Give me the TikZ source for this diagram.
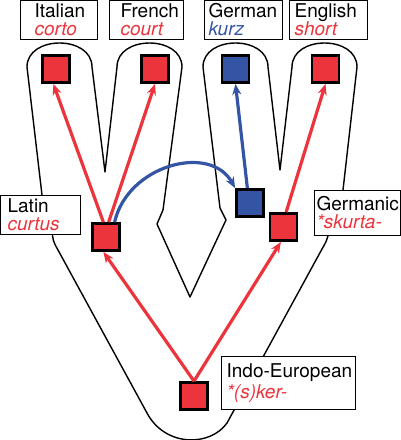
\documentclass[tikz,border=0pt]{standalone}
\usepackage{fontspec}
\setmainfont{TeX Gyre Heros}
\usetikzlibrary{arrows.meta,calc}
\definecolor{wred}{RGB}{236,52,60}
\definecolor{wblue}{RGB}{52,84,164}
\begin{document}
\begin{tikzpicture}[x=1pt,y=-1pt,
  outline/.style={draw=black,line width=1.4pt,line join=round},
  lbox/.style={draw=black,line width=1.2pt,fill=white,anchor=north west,inner ysep=0pt,align=left,font=\fontsize{19}{18}\selectfont},
  sqr/.style={draw=black,line width=2.8pt,minimum size=27pt,inner sep=0pt},
  rsq/.style={sqr,fill=wred},
  bsq/.style={sqr,fill=wblue},
  rarr/.style={draw=wred,line width=3.2pt,-{Stealth[length=11pt,width=9pt]}},
  barr/.style={rarr,draw=wblue},
]
\useasboundingbox (0,0) rectangle (401,440);
% tree outline
\draw[outline] (147,413) -- (58,250) .. controls (53,241) .. (52,230) -- (42,195) -- (27,67)
  .. controls (27,35) and (92,35) .. (92,67) -- (105,172) -- (117,67)
  .. controls (117,35) and (182,35) .. (182,67) -- (163,210) -- (157,224) -- (190,297)
  -- (226,220) -- (220,208) -- (203,67)
  .. controls (203,35) and (268,35) .. (268,67) -- (280,170) -- (292,67)
  .. controls (292,35) and (357,35) .. (357,67) -- (343,190) -- (328,236)
  .. controls (326,242) .. (322,249) -- (227,423)
  .. controls (210,447) and (165,447) .. (147,413) -- cycle;
% label boxes
\node[lbox,inner xsep=14pt,text width=49pt,text height=17pt,text depth=21.5pt] (italian) at (20,0)
  {\mbox{Italian}\\\textcolor{wred}{\itshape corto}};
\node[lbox,inner xsep=11pt,text width=52pt,text height=17pt,text depth=21.5pt] (french) at (109,0)
  {\mbox{French}\\\textcolor{wred}{\itshape court}};
\node[lbox,inner xsep=4pt,text width=70pt,text height=17pt,text depth=21.5pt] (german) at (204,0)
  {\mbox{German}\\\textcolor{wblue}{\itshape kurz}};
\node[lbox,inner xsep=5pt,text width=68pt,text height=17pt,text depth=21.5pt] (english) at (289,0)
  {\mbox{English}\\\textcolor{wred}{\itshape short}};
\node[lbox,inner xsep=7pt,text width=66pt,text height=17pt,text depth=22pt] (latin) at (0,195)
  {\mbox{Latin}\\\textcolor{wred}{\itshape curtus}};
\node[lbox,inner xsep=2pt,text width=82pt,text height=20pt,text depth=25pt] (germanic) at (314,190)
  {\mbox{Germanic}\\\textcolor{wred}{\itshape\mbox{*skurta-}}};
\node[lbox,inner xsep=5pt,text width=124pt,text height=21pt,text depth=32pt] (indoeuropean) at (221,356)
  {\mbox{Indo-European}\\[3pt]\textcolor{wred}{\itshape\mbox{*(s)ker-}}};
% squares
\node[rsq] (it) at (56,69) {};
\node[rsq] (fr) at (155,69) {};
\node[bsq] (de) at (235.5,69) {};
\node[rsq] (en) at (325.5,69) {};
\node[rsq] (la) at (106,237) {};
\node[bsq] (dei) at (250,203) {};
\node[rsq] (gm) at (283.5,227) {};
\node[rsq] (ie) at (194,396) {};
% arrows
\draw[rarr] (ie.north) -- (la.-100);
\draw[rarr] (ie.north) -- (gm.-100);
\draw[rarr] (la.100) -- (it.-100);
\draw[rarr] (la.80) -- (fr.south);
\draw[barr] (la.60) .. controls ($(la.60)+(13,-57)$) and ($(dei.north west)+(-25,-45)$) .. (dei.north west);
\draw[barr] (dei.100) -- (de.south);
\draw[rarr] (gm.80) -- (en.south);
\end{tikzpicture}
\end{document}
